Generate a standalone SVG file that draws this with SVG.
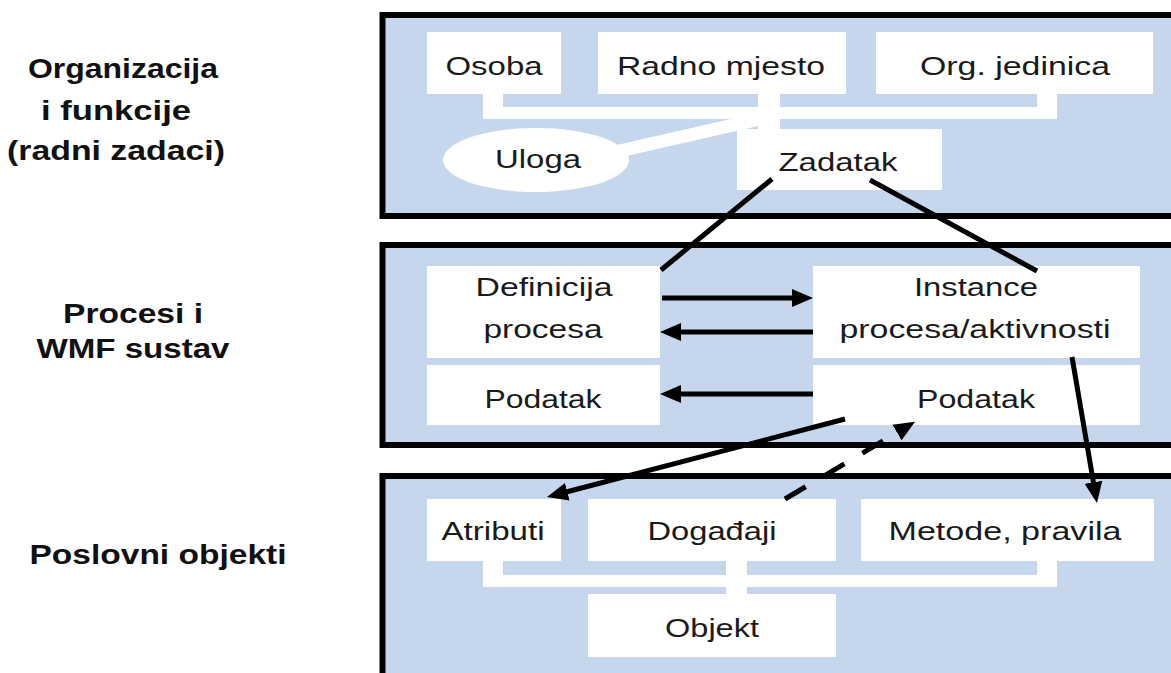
<svg xmlns="http://www.w3.org/2000/svg" width="1171" height="673" viewBox="0 0 1171 673">
<defs>
<style>
.panel{fill:#c6d7ed;stroke:#000;stroke-width:6}
.box{fill:#fff}
.wire{fill:#fff}
.t{font-family:"Liberation Sans",Arial,sans-serif;font-size:26px;fill:#1a1a1a;text-anchor:middle}
.lbl{font-family:"Liberation Sans",Arial,sans-serif;font-size:28px;font-weight:bold;fill:#111;text-anchor:middle}
.con{stroke:#000;stroke-width:5;fill:none}
.arr{marker-end:url(#ah)}
</style>
<marker id="ah" markerUnits="userSpaceOnUse" markerWidth="22" markerHeight="20" viewBox="0 0 22 20" refX="7" refY="10" orient="auto">
<path d="M0,1 L21,10 L0,19 z" fill="#000"/>
</marker>
</defs>

<g id="labels">
<text class="lbl" x="123" y="78" textLength="190" lengthAdjust="spacingAndGlyphs">Organizacija</text>
<text class="lbl" x="116" y="120" textLength="150" lengthAdjust="spacingAndGlyphs">i funkcije</text>
<text class="lbl" x="116" y="160" textLength="218" lengthAdjust="spacingAndGlyphs">(radni zadaci)</text>
<text class="lbl" x="133" y="323" textLength="140" lengthAdjust="spacingAndGlyphs">Procesi  i</text>
<text class="lbl" x="133" y="358" textLength="193" lengthAdjust="spacingAndGlyphs">WMF sustav</text>
<text class="lbl" x="158" y="564" textLength="257" lengthAdjust="spacingAndGlyphs">Poslovni  objekti</text>
</g>

<g id="panel-org">
<rect class="panel" x="382.5" y="15" width="820" height="201"/>
</g>
<g id="panel-proc">
<rect class="panel" x="382.5" y="245" width="820" height="200"/>
</g>
<g id="panel-obj">
<rect class="panel" x="382.5" y="476" width="820" height="230"/>
</g>

<g id="tree-org">
<rect class="wire" x="483" y="107" width="574" height="12"/>
<rect class="wire" x="483" y="94" width="20" height="25"/>
<rect class="wire" x="758" y="94" width="22" height="38"/>
<rect class="wire" x="1037" y="94" width="20" height="25"/>
<line x1="615" y1="152" x2="760" y2="119" stroke="#fff" stroke-width="13"/>
</g>

<g id="osoba">
<rect class="box" x="427" y="32" width="134" height="62"/>
<text class="t" x="494" y="75" textLength="97" lengthAdjust="spacingAndGlyphs">Osoba</text>
</g>
<g id="radno-mjesto">
<rect class="box" x="598" y="32" width="248" height="62"/>
<text class="t" x="721" y="75" textLength="208" lengthAdjust="spacingAndGlyphs">Radno mjesto</text>
</g>
<g id="org-jedinica">
<rect class="box" x="876" y="32" width="277" height="62"/>
<text class="t" x="1015" y="75" textLength="190" lengthAdjust="spacingAndGlyphs">Org. jedinica</text>
</g>
<g id="uloga">
<ellipse class="box" cx="536" cy="160" rx="93" ry="32"/>
<text class="t" x="538" y="168" textLength="86" lengthAdjust="spacingAndGlyphs">Uloga</text>
</g>
<g id="zadatak">
<rect class="box" x="737" y="129" width="205" height="61"/>
<text class="t" x="838" y="171" textLength="119" lengthAdjust="spacingAndGlyphs">Zadatak</text>
</g>

<g id="definicija-procesa">
<rect class="box" x="427" y="266" width="233" height="92"/>
<text class="t" x="544" y="296" textLength="137" lengthAdjust="spacingAndGlyphs">Definicija</text>
<text class="t" x="543" y="338" textLength="119" lengthAdjust="spacingAndGlyphs">procesa</text>
</g>
<g id="podatak-def">
<rect class="box" x="427" y="365" width="233" height="60"/>
<text class="t" x="543" y="408" textLength="117" lengthAdjust="spacingAndGlyphs">Podatak</text>
</g>
<g id="instance-procesa">
<rect class="box" x="813" y="266" width="327" height="92"/>
<text class="t" x="976" y="296" textLength="124" lengthAdjust="spacingAndGlyphs">Instance</text>
<text class="t" x="975" y="338" textLength="271" lengthAdjust="spacingAndGlyphs">procesa/aktivnosti</text>
</g>
<g id="podatak-inst">
<rect class="box" x="813" y="365" width="327" height="60"/>
<text class="t" x="976" y="408" textLength="118" lengthAdjust="spacingAndGlyphs">Podatak</text>
</g>

<g id="tree-obj">
<rect class="wire" x="483" y="575" width="574" height="12"/>
<rect class="wire" x="483" y="561" width="20" height="26"/>
<rect class="wire" x="726" y="561" width="21" height="34"/>
<rect class="wire" x="1037" y="561" width="20" height="26"/>
</g>
<g id="atributi">
<rect class="box" x="427" y="499" width="134" height="62"/>
<text class="t" x="493" y="540" textLength="103" lengthAdjust="spacingAndGlyphs">Atributi</text>
</g>
<g id="dogadaji">
<rect class="box" x="588" y="499" width="248" height="62"/>
<text class="t" x="712" y="540" textLength="129" lengthAdjust="spacingAndGlyphs">Događaji</text>
</g>
<g id="metode">
<rect class="box" x="861" y="499" width="293" height="62"/>
<text class="t" x="1005" y="540" textLength="233" lengthAdjust="spacingAndGlyphs">Metode, pravila</text>
</g>
<g id="objekt">
<rect class="box" x="588" y="594" width="248" height="63"/>
<text class="t" x="712" y="637" textLength="94" lengthAdjust="spacingAndGlyphs">Objekt</text>
</g>

<g id="connectors">
<line class="con" x1="772" y1="179" x2="661" y2="270"/>
<line class="con" x1="870" y1="180" x2="1037" y2="271"/>
<line class="con arr" x1="662" y1="298" x2="799" y2="298"/>
<line class="con arr" x1="813" y1="332" x2="674" y2="332"/>
<line class="con arr" x1="813" y1="394" x2="674" y2="394"/>
<line class="con arr" x1="1072" y1="357" x2="1094.6" y2="489.2"/>
<line class="con arr" x1="845" y1="419" x2="560.5" y2="493.5"/>
<line class="con arr" x1="785" y1="499" x2="903" y2="429" stroke-dasharray="24,21"/>
</g>
</svg>
